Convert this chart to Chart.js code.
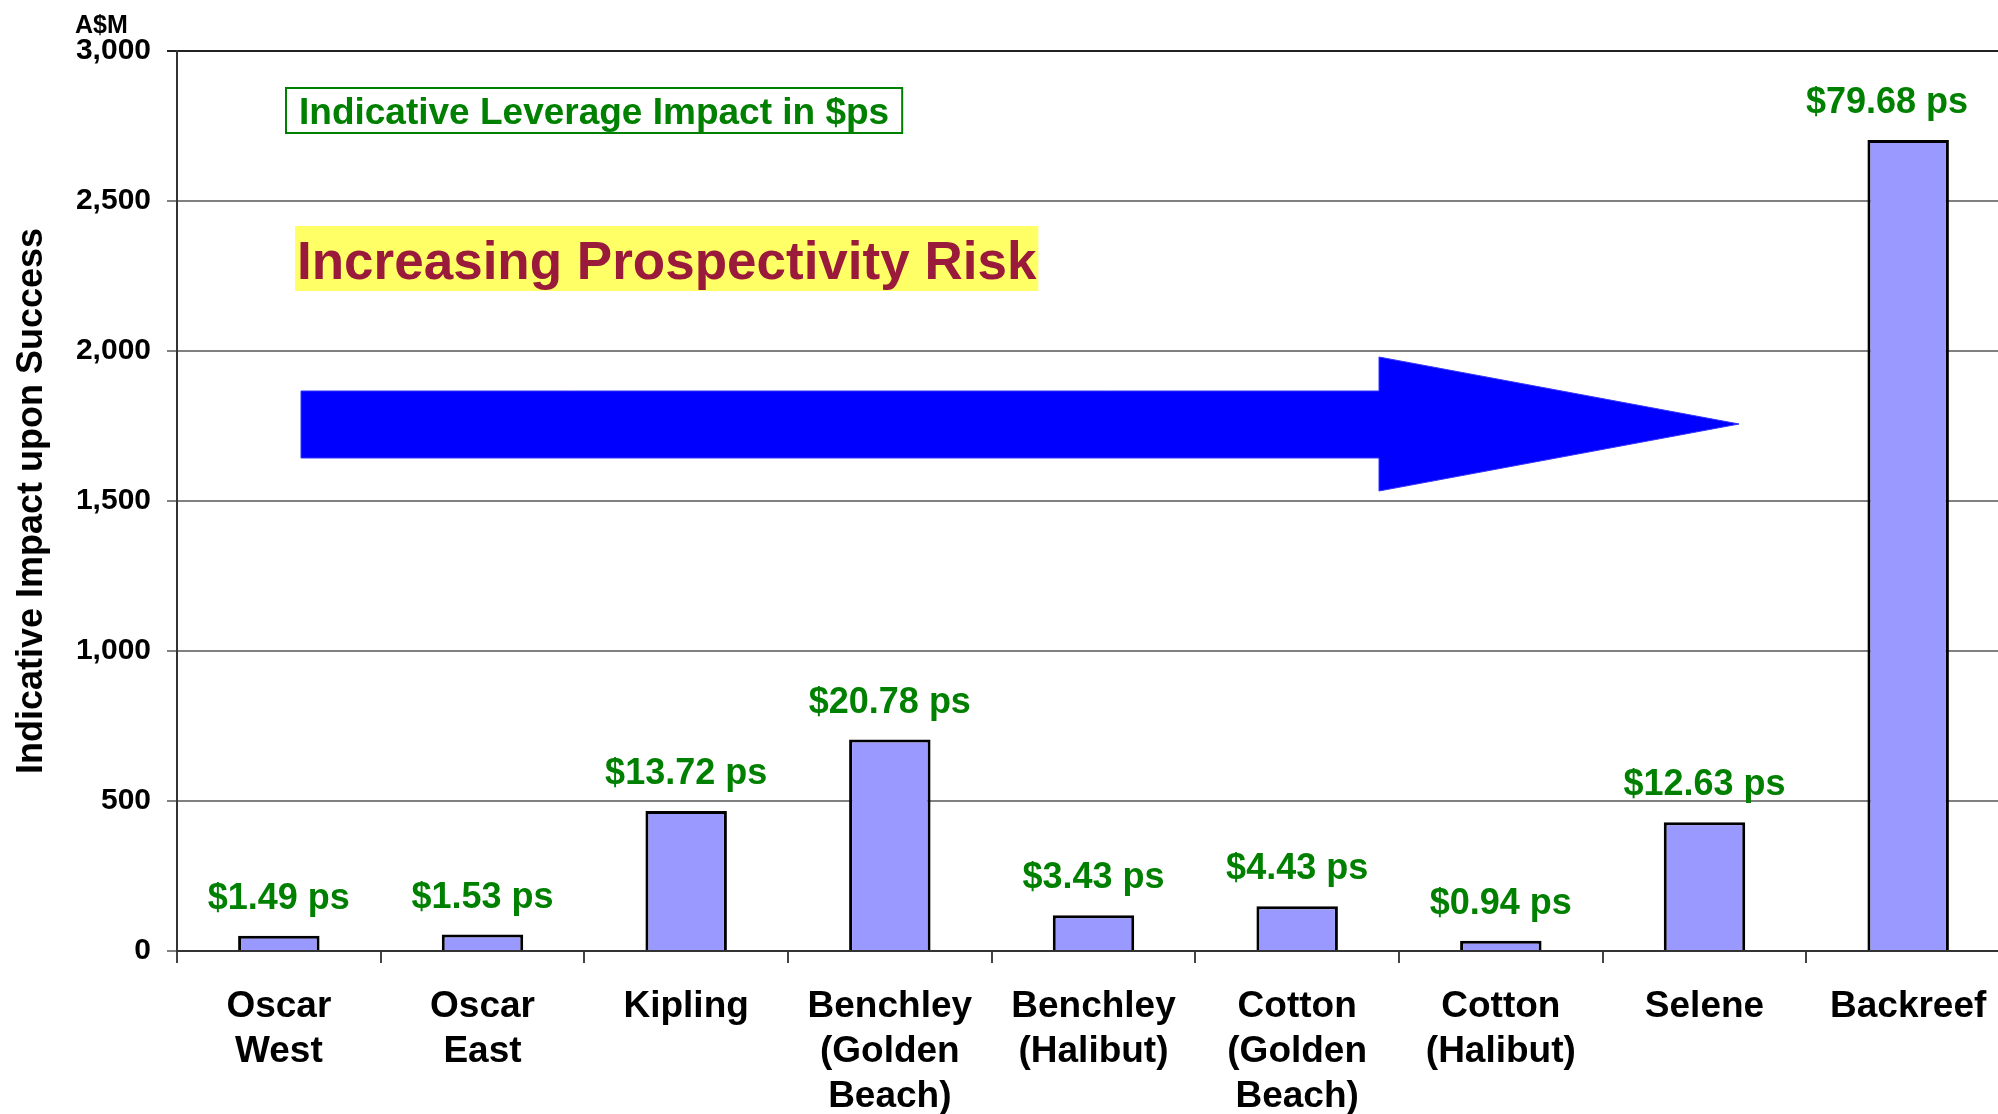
<!DOCTYPE html>
<html>
<head>
<meta charset="utf-8">
<script src="https://cdn.jsdelivr.net/npm/chart.js@4.4.1/dist/chart.umd.min.js"></script>
<style>
  html, body { margin:0; padding:0; overflow:hidden; background:#fff; width:1998px; height:1114px; }
  canvas { display:block; }
</style>
</head>
<body>
<canvas id="chart" width="2010" height="1114"></canvas>
<script>
// data (A$M)
const categories = [
  ["Oscar", "West"], ["Oscar", "East"], ["Kipling"],
  ["Benchley", "(Golden", "Beach)"], ["Benchley", "(Halibut)"],
  ["Cotton", "(Golden", "Beach)"], ["Cotton", "(Halibut)"],
  ["Selene"], ["Backreef"]
];
const impactValues   = [51, 55, 467, 705, 119, 149, 34, 429, 2703];
const perShareValues = [1.49, 1.53, 13.72, 20.78, 3.43, 4.43, 0.94, 12.63, 79.68];
const yTicks = [0, 500, 1000, 1500, 2000, 2500, 3000];

const FONT = "'Liberation Sans', Arial, sans-serif";
const PAGE_W = 1998;
Chart.defaults.font.family = FONT;

// green "$x.xx ps" labels above each bar
const valueLabels = {
  id: "valueLabels",
  afterDatasetsDraw(chart) {
    const ctx = chart.ctx;
    const meta = chart.getDatasetMeta(0);
    ctx.save();
    ctx.font = "bold 36px " + FONT;
    ctx.fillStyle = "#008000";
    ctx.textAlign = "center";
    ctx.textBaseline = "alphabetic";
    meta.data.forEach((bar, i) => {
      const txt = "$" + perShareValues[i].toFixed(2) + " ps";
      const w = ctx.measureText(txt).width;
      let x = bar.x;
      if (x + w / 2 > PAGE_W - 30) x = PAGE_W - 30 - w / 2; // keep inside page
      ctx.fillText(txt, x, bar.y - 27);
    });
    ctx.restore();
  }
};

// unit, boxed note, highlighted caption, big arrow
const annotations = {
  id: "annotations",
  afterDraw(chart) {
    const ctx = chart.ctx;
    ctx.save();

    ctx.fillStyle = "#000";
    ctx.font = "bold 25px " + FONT;
    ctx.textAlign = "left";
    ctx.textBaseline = "alphabetic";
    ctx.fillText("A$M", 75, 33);

    // boxed note
    const note = "Indicative Leverage Impact in $ps";
    ctx.font = "bold 37px " + FONT;
    const nw = ctx.measureText(note).width;
    ctx.strokeStyle = "#008000";
    ctx.lineWidth = 2;
    ctx.strokeRect(286, 88, nw + 26, 45);
    ctx.fillStyle = "#008000";
    ctx.fillText(note, 299, 124);

    // highlighted caption
    const cap = "Increasing Prospectivity Risk";
    ctx.font = "bold 53px " + FONT;
    const cw = ctx.measureText(cap).width;
    ctx.fillStyle = "#FFFF66";
    ctx.fillRect(295, 226, cw + 4, 65);
    ctx.fillStyle = "#9A1A3C";
    ctx.fillText(cap, 297, 279);

    // arrow
    ctx.beginPath();
    ctx.moveTo(301, 391);
    ctx.lineTo(1379, 391);
    ctx.lineTo(1379, 357);
    ctx.lineTo(1739, 424);
    ctx.lineTo(1379, 491);
    ctx.lineTo(1379, 458);
    ctx.lineTo(301, 458);
    ctx.closePath();
    ctx.fillStyle = "#0000FF";
    ctx.fill();
    ctx.strokeStyle = "#3333FF";
    ctx.lineWidth = 1;
    ctx.stroke();

    ctx.restore();
  }
};

new Chart(document.getElementById("chart"), {
  type: "bar",
  data: {
    labels: categories,
    datasets: [{
      data: impactValues,
      backgroundColor: "#9999FF",
      borderColor: "#000",
      borderWidth: 3,
      barPercentage: 0.4,
      categoryPercentage: 1.0
    }]
  },
  options: {
    responsive: false,
    animation: false,
    layout: { padding: { top: 51, left: 0, right: 0, bottom: 0 } },
    plugins: { legend: { display: false }, tooltip: { enabled: false } },
    scales: {
      x: {
        afterFit(s) { s.height = 163; },
        ticks: {
          color: "#000", maxRotation: 0, autoSkip: false, padding: 21,
          font: { size: 37, weight: "bold", lineHeight: "45px" }
        },
        grid: { offset: true, drawOnChartArea: false, drawTicks: true, tickLength: 12, color: "#444", lineWidth: 2 },
        border: { color: "#333", width: 2 }
      },
      y: {
        min: 0, max: 3000,
        afterFit(s) { s.width = 177; },
        afterBuildTicks(s) { s.ticks = yTicks.map(v => ({ value: v })); },
        ticks: {
          color: "#000", padding: 16,
          font: { size: 30, weight: "bold" },
          callback: v => v.toLocaleString("en-US")
        },
        grid: {
          color: c => (c.tick && c.tick.value === 3000) ? "#222" : "#808080",
          lineWidth: 2, tickLength: 10
        },
        border: { color: "#333", width: 2 },
        title: {
          display: true, text: "Indicative Impact upon Success", color: "#000",
          font: { size: 36, weight: "bold" }, padding: { top: 10, bottom: 0 }
        }
      }
    }
  },
  plugins: [valueLabels, annotations]
});
</script>
</body>
</html>
